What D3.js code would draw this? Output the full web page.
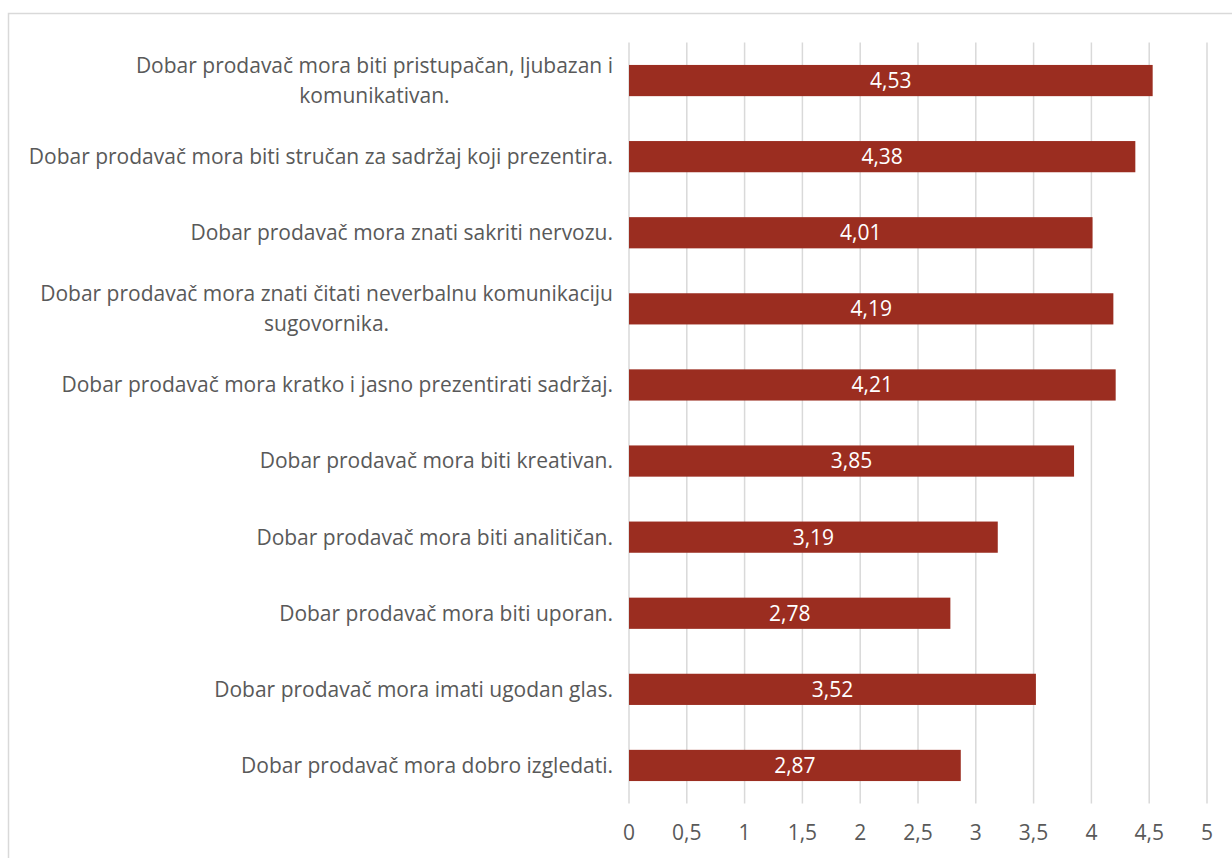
<!DOCTYPE html>
<html lang="hr">
  <head>
    <meta charset="UTF-8" />
    <title>Dobar prodavač</title>
    <script src="https://d3js.org/d3.v7.min.js"></script>
    <style>
      body { margin: 0; background: #fff; }
      text { font-family: "Open Sans", sans-serif; }
    </style>
  </head>
  <body>
    <div id="chart"></div>
    <script>
      const categories = [
        "Dobar prodavač mora biti pristupačan, ljubazan i\nkomunikativan.",
        "Dobar prodavač mora biti stručan za sadržaj koji prezentira.",
        "Dobar prodavač mora znati sakriti nervozu.",
        "Dobar prodavač mora znati čitati neverbalnu komunikaciju\nsugovornika.",
        "Dobar prodavač mora kratko i jasno prezentirati sadržaj.",
        "Dobar prodavač mora biti kreativan.",
        "Dobar prodavač mora biti analitičan.",
        "Dobar prodavač mora biti uporan.",
        "Dobar prodavač mora imati ugodan glas.",
        "Dobar prodavač mora dobro izgledati."
      ];
      const values = [4.53, 4.38, 4.01, 4.19, 4.21, 3.85, 3.19, 2.78, 3.52, 2.87];
      const ticks = [0, 0.5, 1, 1.5, 2, 2.5, 3, 3.5, 4, 4.5, 5];

      const width = 1232;
      const height = 858;
      const fontSize = 21;
      const fmt = (v) => String(v).replace(".", ",");

      const svg = d3
        .select("#chart")
        .append("svg")
        .attr("width", width)
        .attr("height", height);

      // chart border (runs off the right and bottom edge)
      svg
        .append("rect")
        .attr("x", 8.5)
        .attr("y", 13.5)
        .attr("width", 1240)
        .attr("height", 900)
        .attr("fill", "none")
        .attr("stroke", "#d9d9d9")
        .attr("stroke-width", 1.5);

      const x = d3.scaleLinear().domain([0, 5]).range([629, 1207]);
      const y = d3
        .scaleBand()
        .domain(categories)
        .range([42.5, 803.5])
        .paddingInner(0.59)
        .paddingOuter(0.295);

      // gridlines
      svg
        .selectAll("line.grid")
        .data(ticks)
        .enter()
        .append("line")
        .attr("class", "grid")
        .attr("x1", (d) => x(d))
        .attr("x2", (d) => x(d))
        .attr("y1", 42.5)
        .attr("y2", 803.5)
        .attr("stroke", "#d9d9d9")
        .attr("stroke-width", 1.5);

      // tick labels
      svg
        .selectAll("text.tick")
        .data(ticks)
        .enter()
        .append("text")
        .attr("class", "tick")
        .attr("x", (d) => x(d))
        .attr("y", 833)
        .attr("dy", "0.35em")
        .attr("text-anchor", "middle")
        .attr("font-size", fontSize)
        .attr("fill", "#595959")
        .text((d) => fmt(d));

      // bars
      svg
        .selectAll("rect.bar")
        .data(values)
        .enter()
        .append("rect")
        .attr("class", "bar")
        .attr("x", x(0))
        .attr("y", (d, i) => y(categories[i]))
        .attr("width", (d) => x(d) - x(0))
        .attr("height", y.bandwidth())
        .attr("fill", "#9b2d20");

      // value labels
      svg
        .selectAll("text.value")
        .data(values)
        .enter()
        .append("text")
        .attr("class", "value")
        .attr("x", (d) => (x(0) + x(d)) / 2)
        .attr("y", (d, i) => y(categories[i]) + y.bandwidth() / 2)
        .attr("dy", "0.35em")
        .attr("text-anchor", "middle")
        .attr("font-size", fontSize)
        .attr("fill", "#ffffff")
        .text((d) => fmt(d));

      // category labels, wrapped block right-aligned, lines centred
      const lineHeight = 30;
      svg
        .selectAll("g.cat")
        .data(categories)
        .enter()
        .append("g")
        .attr("class", "cat")
        .each(function (d) {
          const g = d3.select(this);
          const lines = d.split("\n");
          const cy = y(d) + y.bandwidth() / 2;
          const y0 = cy - ((lines.length - 1) * lineHeight) / 2;
          const texts = lines.map((line, i) =>
            g
              .append("text")
              .attr("y", y0 + i * lineHeight)
              .attr("dy", "0.35em")
              .attr("text-anchor", "middle")
              .attr("font-size", fontSize)
              .attr("fill", "#595959")
              .text(line)
          );
          const maxW = d3.max(texts, (t) => t.node().getComputedTextLength());
          texts.forEach((t) => t.attr("x", 613 - maxW / 2));
        });
    </script>
  </body>
</html>
